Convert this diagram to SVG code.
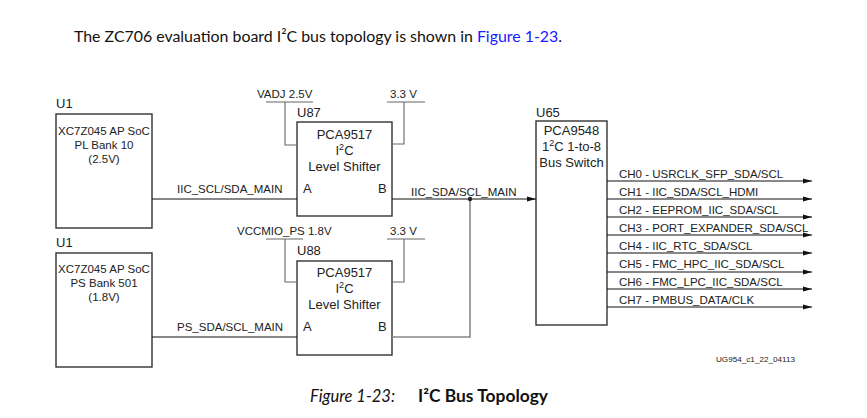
<svg xmlns="http://www.w3.org/2000/svg" width="867" height="418" viewBox="0 0 867 418">
<style>
text{font-family:"Liberation Sans",Arial,sans-serif;fill:#222}
.s{font-size:11.5px}
.m{font-size:13px}
.c{text-anchor:middle}
.box{fill:#fff;stroke:#333;stroke-width:1.4}
.pw{fill:none;stroke:#666;stroke-width:1.1}
.ln{fill:none;stroke:#111;stroke-width:1}
.gl{fill:none;stroke:#888;stroke-width:1.6}
.doc{font-family:Lato,"Open Sans",sans-serif;fill:#111}
</style>
<defs>
<marker id="ar" markerWidth="9" markerHeight="6" refX="9" refY="3" orient="auto" markerUnits="userSpaceOnUse">
<path d="M0,0.5 L9,3 L0,5.5 Z" fill="#111"/>
</marker>
</defs>
<rect width="867" height="418" fill="#fff"/>
<g id="intro">
<text class="doc" x="74" y="42" font-size="15.9">The ZC706 evaluation board I²C bus topology is shown in <tspan style="fill:#1a1aff">Figure 1-23</tspan>.</text>
</g>

<g id="u1a">
<text class="m" x="56" y="108">U1</text>
<rect class="box" x="56" y="114" width="96" height="114"/>
<text class="s c" x="104" y="135">XC7Z045 AP SoC</text>
<text class="s c" x="104" y="149">PL Bank 10</text>
<text class="s c" x="104" y="163">(2.5V)</text>
</g>
<g id="u1b">
<text class="m" x="56" y="247">U1</text>
<rect class="box" x="56" y="253" width="96" height="114"/>
<text class="s c" x="104" y="273">XC7Z045 AP SoC</text>
<text class="s c" x="104" y="287">PS Bank 501</text>
<text class="s c" x="104" y="301">(1.8V)</text>
</g>
<g id="u87">
<text class="m" x="297" y="117" fill="#444">U87</text>
<rect class="box" x="297" y="122" width="95" height="94"/>
<text class="m c" x="344.5" y="139">PCA9517</text>
<text class="m c" x="344.5" y="155">I<tspan font-size="9" dy="-5">2</tspan><tspan dy="5">C</tspan></text>
<text class="m c" x="344.5" y="171">Level Shifter</text>
<text class="m" x="303" y="193">A</text>
<text class="m" x="378" y="193">B</text>
</g>
<g id="u88">
<text class="m" x="297" y="255" fill="#444">U88</text>
<rect class="box" x="297" y="261" width="95" height="94"/>
<text class="m c" x="344.5" y="277">PCA9517</text>
<text class="m c" x="344.5" y="293">I<tspan font-size="9" dy="-5">2</tspan><tspan dy="5">C</tspan></text>
<text class="m c" x="344.5" y="309">Level Shifter</text>
<text class="m" x="303" y="331">A</text>
<text class="m" x="378" y="331">B</text>
</g>
<g id="u65">
<text class="m" x="536" y="117">U65</text>
<rect class="box" x="536" y="121" width="71" height="204"/>
<text class="m c" x="571.5" y="135">PCA9548</text>
<text class="m c" x="571.5" y="151">1<tspan font-size="9" dy="-5">2</tspan><tspan dy="5">C 1-to-8</tspan></text>
<text class="m c" x="571.5" y="167">Bus Switch</text>
</g>
<g id="power">
<text class="s" x="257" y="98">VADJ 2.5V</text>
<text class="s" x="390" y="98">3.3 V</text>
<text class="s" x="237" y="235">VCCMIO_PS 1.8V</text>
<text class="s" x="390" y="235">3.3 V</text>
</g>
<g id="connectors">
<path class="pw" d="M266,102 H313 M285,102 V145 H297"/>
<path class="pw" d="M387,102 H425 M404,102 V144 H392"/>
<path class="pw" d="M266,239 H303 M285,239 V282 H297"/>
<path class="pw" d="M387,239 H425 M404,239 V282 H392"/>
<path class="ln" d="M152,199 H297"/>
<path class="ln" d="M152,337 H297"/>
<path class="gl" d="M392,337 H470 V199"/>
<path class="ln" d="M392,199 H536" marker-end="url(#ar)"/>
<circle cx="470" cy="199" r="2.2" fill="#222"/>
<path class="ln" d="M607,181 H812" marker-end="url(#ar)"/>
<path class="ln" d="M607,199 H812" marker-end="url(#ar)"/>
<path class="ln" d="M607,217 H812" marker-end="url(#ar)"/>
<path class="ln" d="M607,235 H812" marker-end="url(#ar)"/>
<path class="ln" d="M607,253 H812" marker-end="url(#ar)"/>
<path class="ln" d="M607,272 H812" marker-end="url(#ar)"/>
<path class="ln" d="M607,289 H812" marker-end="url(#ar)"/>
<path class="ln" d="M607,307 H812" marker-end="url(#ar)"/>
<text class="s" x="177" y="193">IIC_SCL/SDA_MAIN</text>
<text class="s" x="177" y="331">PS_SDA/SCL_MAIN</text>
<text class="s" x="411" y="196">IIC_SDA/SCL_MAIN</text>
<text class="s" x="619" y="178">CH0 - USRCLK_SFP_SDA/SCL</text>
<text class="s" x="619" y="196">CH1 - IIC_SDA/SCL_HDMI</text>
<text class="s" x="619" y="214">CH2 - EEPROM_IIC_SDA/SCL</text>
<text class="s" x="619" y="232">CH3 - PORT_EXPANDER_SDA/SCL</text>
<text class="s" x="619" y="250">CH4 - IIC_RTC_SDA/SCL</text>
<text class="s" x="619" y="268">CH5 - FMC_HPC_IIC_SDA/SCL</text>
<text class="s" x="619" y="286">CH6 - FMC_LPC_IIC_SDA/SCL</text>
<text class="s" x="619" y="304">CH7 - PMBUS_DATA/CLK</text>
</g>
<g id="caption">
<text x="716" y="362" font-size="7.5" fill="#333" textLength="79" lengthAdjust="spacingAndGlyphs">UG954_c1_22_04113</text>
<text class="doc" x="310" y="402" font-size="16.5" font-style="italic" textLength="85" lengthAdjust="spacingAndGlyphs">Figure 1-23:</text>
<text class="doc" x="418" y="402" font-size="16.5" font-weight="bold" textLength="130" lengthAdjust="spacingAndGlyphs">I²C Bus Topology</text>
</g>
</svg>
